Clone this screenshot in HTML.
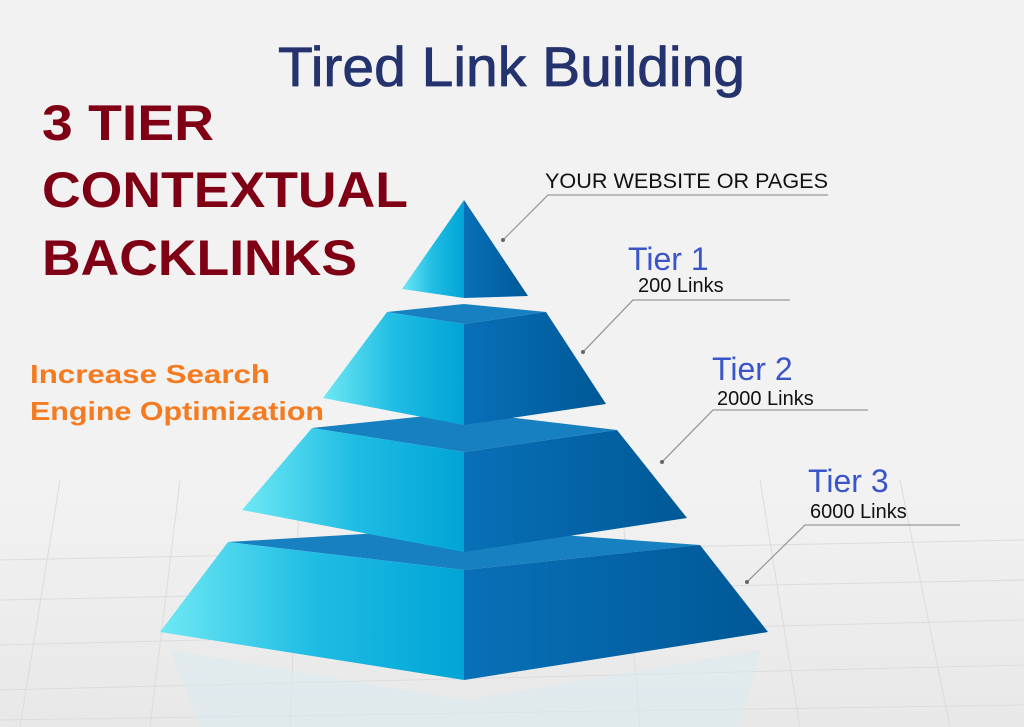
<!DOCTYPE html>
<html><head><meta charset="utf-8"><style>
html,body{margin:0;padding:0;background:#f2f2f2;}
svg{display:block}
text{font-family:"Liberation Sans",sans-serif}
</style></head><body>
<svg width="1024" height="727" viewBox="0 0 1024 727" xmlns="http://www.w3.org/2000/svg">
<defs>
<linearGradient id="L" x1="0" y1="0" x2="1" y2="0"><stop offset="0" stop-color="#6ee8f4"/><stop offset="0.5" stop-color="#20bde4"/><stop offset="1" stop-color="#00a4d6"/></linearGradient>
<linearGradient id="R" x1="0" y1="0" x2="1" y2="0"><stop offset="0" stop-color="#0870b8"/><stop offset="1" stop-color="#005896"/></linearGradient>
<linearGradient id="fl" x1="0" y1="0" x2="0" y2="1"><stop offset="0" stop-color="#f2f2f2"/><stop offset="1" stop-color="#e8e8e8"/></linearGradient>
</defs>
<rect width="1024" height="727" fill="#f2f2f2"/>
<rect y="480" width="1024" height="247" fill="url(#fl)"/>
<g stroke="#dcdcdc" stroke-width="1" fill="none">
<path d="M0 560 L1024 540 M0 600 L1024 580 M0 645 L1024 620 M0 690 L1024 665 M0 720 L1024 705"/>
<path d="M60 480 L20 727 M180 480 L150 727 M300 480 L290 727 M620 480 L640 727 M760 480 L800 727 M900 480 L950 727"/>
</g>
<path d="M170 650 L464 700 L760 650 L740 727 L200 727Z" fill="#d8ebf2" opacity="0.5"/>
<!-- tier 3 -->
<path d="M228 542 L464 528 L700 545 L464 570Z" fill="#1780c0"/>
<path d="M228 542 L464 570 L464 680 L160 632Z" fill="url(#L)"/>
<path d="M464 570 L700 545 L768 632 L464 680Z" fill="url(#R)"/>
<!-- tier 2 -->
<path d="M312 428 L464 412 L617 430 L464 452Z" fill="#1780c0"/>
<path d="M312 428 L464 452 L464 552 L242 510Z" fill="url(#L)"/>
<path d="M464 452 L617 430 L687 518 L464 552Z" fill="url(#R)"/>
<!-- tier 1 -->
<path d="M387 312 L464 304 L546 312 L464 324Z" fill="#1780c0"/>
<path d="M387 312 L464 324 L464 425 L323 398Z" fill="url(#L)"/>
<path d="M464 324 L546 312 L606 404 L464 425Z" fill="url(#R)"/>
<!-- top -->
<path d="M464 200 L402 289 L464 298Z" fill="url(#L)"/>
<path d="M464 200 L464 298 L528 296Z" fill="url(#R)"/>
<!-- connectors -->
<g stroke="#9a9a9a" stroke-width="1.3" fill="none">
<path d="M828 195 L548 195 L503 240"/>
<path d="M790 300 L633 300 L583 352"/>
<path d="M868 410 L713 410 L662 462"/>
<path d="M960 525 L805 525 L747 582"/>
</g>
<g fill="#666"><circle cx="503" cy="240" r="2"/><circle cx="583" cy="352" r="2"/><circle cx="662" cy="462" r="2"/><circle cx="747" cy="582" r="2"/></g>
<text x="278" y="86" font-size="56" fill="#24336e" stroke="#24336e" stroke-width="0.8" textLength="467" lengthAdjust="spacingAndGlyphs">Tired Link Building</text>
<g font-weight="bold" fill="#7f0015" font-size="50">
<text x="42" y="140" textLength="172" lengthAdjust="spacingAndGlyphs">3 TIER</text>
<text x="42" y="207" textLength="366" lengthAdjust="spacingAndGlyphs">CONTEXTUAL</text>
<text x="42" y="275" textLength="315" lengthAdjust="spacingAndGlyphs">BACKLINKS</text>
</g>
<g font-weight="bold" fill="#f47b20" font-size="26">
<text x="30" y="383" textLength="240" lengthAdjust="spacingAndGlyphs">Increase Search</text>
<text x="30" y="420" textLength="294" lengthAdjust="spacingAndGlyphs">Engine Optimization</text>
</g>
<text x="545" y="188" font-size="21" fill="#111" textLength="283" lengthAdjust="spacingAndGlyphs">YOUR WEBSITE OR PAGES</text>
<g fill="#3a55c8" font-size="32">
<text x="628" y="270">Tier 1</text>
<text x="712" y="380">Tier 2</text>
<text x="808" y="492">Tier 3</text>
</g>
<g fill="#111" font-size="20">
<text x="638" y="292">200 Links</text>
<text x="717" y="405">2000 Links</text>
<text x="810" y="518">6000 Links</text>
</g>
</svg>
</body></html>
